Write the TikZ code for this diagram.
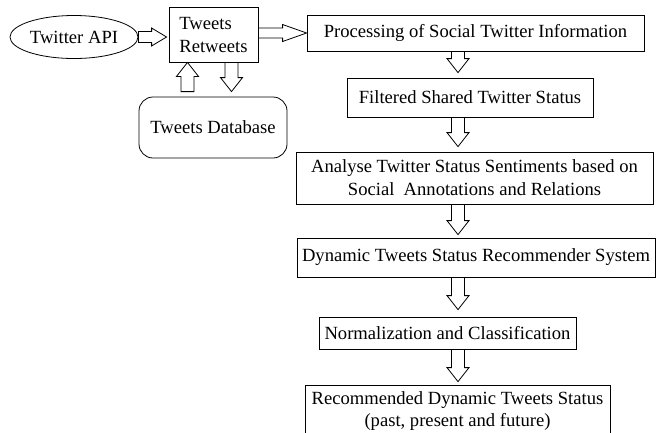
\documentclass[tikz,border=0pt]{standalone}
\usepackage{fontspec}
\setmainfont{Liberation Serif}
\usetikzlibrary{shapes.geometric,calc}

\tikzset{
  fatshaft/.store in=\fshaft, fathead/.store in=\fhead, fatlen/.store in=\flen,
  fatshaft=6.5pt, fathead=11pt, fatlen=14pt
}

\begin{document}
\begin{tikzpicture}[x=1pt, y=-1pt, line width=0.8pt,
  every node/.style={draw, inner sep=1pt, align=center, font=\fontsize{18.6}{23}\selectfont},
  box/.style={rectangle},
  fatarrow/.style={to path={let \p1=(\tikztostart), \p2=(\tikztotarget), \p3=($(\p2)!\flen!(\p1)$) in
    ($(\p1)!\fshaft!90:(\p2)$) -- ($(\p3)!\fshaft!90:(\p2)$) -- ($(\p3)!\fhead!90:(\p2)$) -- (\p2)
    -- ($(\p3)!\fhead!-90:(\p2)$) -- ($(\p3)!\fshaft!-90:(\p2)$) -- ($(\p1)!\fshaft!-90:(\p2)$) -- cycle}}]
  \useasboundingbox[fill=white] (0,0) rectangle (661,432);

  \node[ellipse, minimum width=128pt, minimum height=43pt] (api) at (74,37) {Twitter API};
  \node[box, minimum width=89pt, minimum height=55pt, align=left] (tw) at (213.5,34.5) {Tweets\\Retweets};
  \node[rounded corners=14pt, minimum width=148pt, minimum height=61pt] (db) at (213,127.5) {Tweets Database};

  \node[box, minimum width=337pt, minimum height=36pt] (proc) at (475.5,33) {Processing of Social Twitter Information};
  \node[box, minimum width=246pt, minimum height=39pt] (filt) at (470,97.5) {Filtered Shared Twitter Status};
  \node[box, minimum width=357pt, minimum height=52pt] (anal) at (474.5,178) {Analyse Twitter Status Sentiments based on\\Social~ Annotations and Relations};
  \node[box, minimum width=358pt, minimum height=39pt] (dyn) at (476,257.5) {Dynamic Tweets Status Recommender System};
  \node[box, minimum width=257pt, minimum height=32pt] (norm) at (447.5,333) {Normalization and Classification};
  \node[box, minimum width=305pt, minimum height=53pt, font=\fontsize{18.6}{22}\selectfont] (rec) at (457.5,411.5) {Recommended Dynamic Tweets Status\\(past, present and future)};

  \coordinate (ux) at (187.5,0);
  \coordinate (dx) at (231.5,0);
  \coordinate (ax) at (458,0);

  \draw[fatarrow, fatshaft=5.5pt, fathead=9pt, fatlen=15pt] (api.east) to ([xshift=-2pt]api.east -| tw.west);
  \draw[fatarrow, fatshaft=5pt, fathead=8.5pt, fatlen=24pt] ([yshift=1.5pt]tw.east) to ([yshift=1.5pt]tw.east -| proc.west);
  \draw[fatarrow] ([yshift=5pt]db.north -| ux) to (tw.south -| ux);
  \draw[fatarrow] (tw.south -| dx) to ([yshift=5pt]db.north -| dx);
  \draw[fatarrow] (proc.south -| ax) to ([yshift=5pt]filt.north -| ax);
  \draw[fatarrow] (filt.south -| ax) to ([yshift=5pt]anal.north -| ax);
  \draw[fatarrow] (anal.south -| ax) to ([yshift=3pt]dyn.north -| ax);
  \draw[fatarrow] (dyn.south -| ax) to ([yshift=7pt]norm.north -| ax);
  \draw[fatarrow] (norm.south -| ax) to ([yshift=3pt]rec.north -| ax);
\end{tikzpicture}
\end{document}
